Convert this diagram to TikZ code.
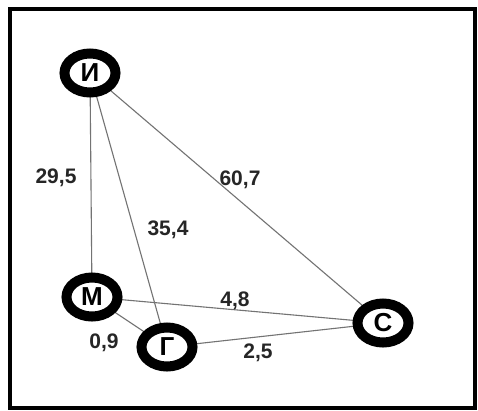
\documentclass[tikz,border=0pt]{standalone}
\usepackage{fontspec}
\setmainfont{Liberation Sans}
\usetikzlibrary{shapes.geometric}
\begin{document}
\begin{tikzpicture}[x=1pt,y=-1pt,
  city/.style={ellipse,draw=black,line width=10pt,fill=white,minimum width=51pt,minimum height=39pt,inner sep=0pt,font=\fontsize{26}{26}\selectfont\bfseries},
  road/.style={draw=black!55,line width=1.1pt},
  dist/.style={font=\fontsize{21}{21}\selectfont\bfseries,text=black!85}]
\useasboundingbox (0,0) rectangle (478,410);
\fill[white] (0,0) rectangle (478,410);
\draw[line width=4pt] (10,9) rectangle (475,408);
\coordinate (cI) at (90,73);
\coordinate (cM) at (92,297);
\coordinate (cG) at (167,347);
\coordinate (cS) at (383,323);
\path[road] (cI) -- (cM);
\path[road] (cI) -- (cG);
\path[road] (cI) -- (cS);
\path[road] (cM) -- (cS);
\path[road] (cM) -- (cG);
\path[road] (cG) -- (cS);
\node[city] (I) at (cI) {И};
\node[city] (M) at (cM) {М};
\node[city] (G) at (cG) {Г};
\node[city] (S) at (cS) {С};
\node[dist] (l1) at (56,178) {29,5};
\node[dist] (l2) at (240,180) {60,7};
\node[dist] (l3) at (168,230) {35,4};
\node[dist] (l4) at (235,301) {4,8};
\node[dist] (l5) at (104,343) {0,9};
\node[dist] (l6) at (258,353) {2,5};
\end{tikzpicture}
\end{document}
